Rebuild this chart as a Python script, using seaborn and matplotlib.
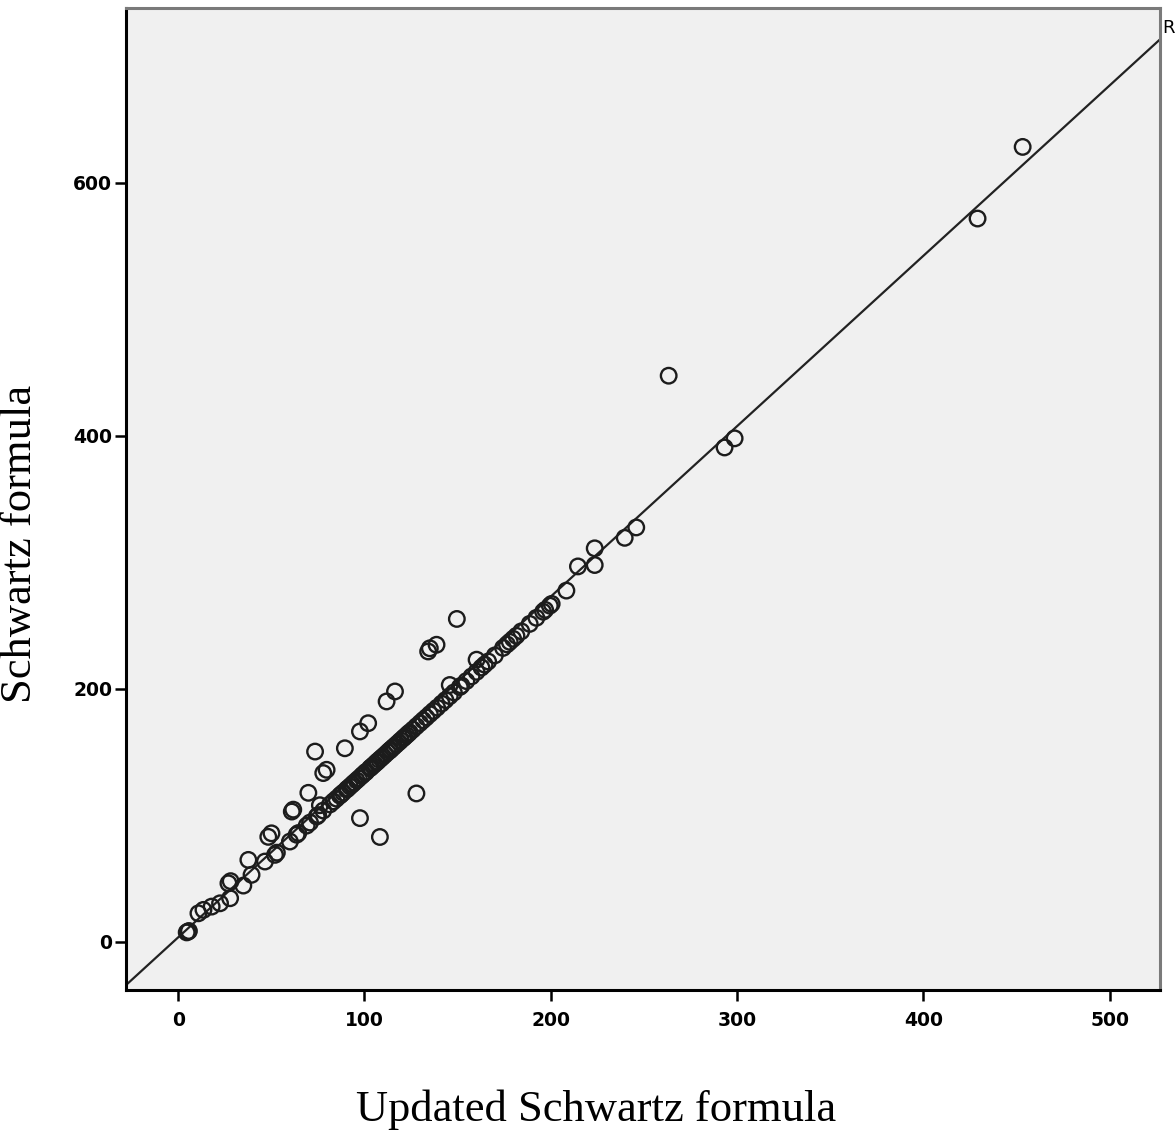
import pandas as pd
import matplotlib
matplotlib.use("Agg")
import matplotlib.pyplot as plt
import seaborn as sns

# eGFR values (updated Schwartz vs. original Schwartz)
updated_schwartz = [
    4.6, 5.3, 5.8, 10.9, 13.6, 18.0, 22.5, 27.0, 27.9, 28.2, 35.0, 37.7, 39.4,
    46.6, 48.4, 50.1, 52.0, 53.0, 60.0, 61.0, 61.8, 63.6, 64.5, 69.0, 69.9,
    70.8, 73.5, 74.4, 75.2, 76.1, 77.9, 77.9, 79.7, 81.5, 83.3, 85.0, 86.8,
    87.5, 88.6, 89.5, 90.4, 91.0, 92.2, 93.5, 94.5, 95.8, 97.0, 97.6, 97.6,
    98.5, 99.3, 100.5, 101.0, 102.0, 102.9, 103.5, 104.5, 105.5, 106.5, 107.0,
    108.0, 108.3, 109.0, 110.0, 111.2, 111.9, 112.5, 113.6, 114.0, 115.0,
    116.0, 116.4, 117.2, 118.5, 119.5, 120.8, 121.5, 122.6, 123.5, 124.3,
    126.0, 127.9, 127.9, 129.8, 131.5, 133.2, 134.2, 135.1, 135.1, 137.0,
    138.7, 139.0, 141.4, 143.5, 145.8, 145.8, 148.0, 149.6, 151.2, 152.1,
    154.7, 157.5, 160.2, 160.2, 162.8, 164.5, 166.4, 170.0, 174.4, 176.5,
    178.0, 179.8, 181.6, 184.2, 188.7, 192.3, 195.9, 197.0, 199.5, 200.5,
    208.4, 214.6, 223.6, 223.6, 239.7, 245.9, 263.3, 293.3, 298.7, 429.1,
    453.3,
]
schwartz = [
    7.5, 8.1, 8.6, 22.6, 25.3, 27.9, 30.5, 46.3, 34.5, 48.0, 44.5, 64.8, 53.0,
    63.5, 83.0, 85.8, 68.8, 70.5, 79.3, 103.0, 104.5, 84.7, 86.0, 91.9, 117.8,
    94.3, 150.4, 99.1, 100.2, 108.0, 103.8, 133.4, 136.0, 108.6, 111.0, 113.2,
    115.6, 116.5, 118.0, 153.0, 120.4, 121.2, 122.8, 124.5, 125.9, 127.6,
    129.2, 97.8, 166.3, 131.2, 132.3, 133.9, 134.5, 172.8, 137.1, 137.9,
    139.2, 140.5, 141.9, 142.5, 143.9, 82.9, 145.2, 146.5, 148.1, 190.0,
    149.9, 151.3, 151.8, 153.2, 154.5, 197.9, 156.1, 157.8, 159.2, 160.9,
    161.8, 163.3, 164.5, 165.6, 167.8, 117.3, 170.4, 172.9, 175.2, 177.4,
    229.5, 232.0, 180.0, 182.5, 234.8, 185.1, 188.3, 191.1, 194.2, 203.0,
    197.1, 255.2, 201.4, 202.6, 206.1, 209.8, 213.4, 223.0, 216.8, 219.1,
    221.6, 226.4, 232.3, 235.1, 237.1, 239.5, 241.9, 245.4, 251.3, 256.1,
    260.9, 262.4, 265.7, 267.1, 277.6, 296.7, 297.8, 311.0, 319.3, 327.5,
    447.4, 390.7, 397.9, 571.6, 628.2,
]

X_TICKS = [0, 100, 200, 300, 400, 500]
Y_TICKS = [0, 200, 400, 600]

df = pd.DataFrame({"updated": updated_schwartz, "schwartz": schwartz})

sns.set_style("white", {"axes.facecolor": "#f0f0f0"})
plt.rcParams["font.family"] = ["DejaVu Sans"]

fig = plt.figure(figsize=(11.75, 11.37), dpi=100)
ax = fig.add_axes([0.1072, 0.1293, 0.88, 0.8637])
ax.set_xlim(-28, 527)
ax.set_ylim(-38, 738)

# linear fit across the whole plot, like SPSS "fit line at total"
sns.regplot(data=df, x="updated", y="schwartz", ax=ax, scatter=False, ci=None,
            truncate=False, line_kws=dict(color="#222222", linewidth=1.6))

sns.scatterplot(data=df, x="updated", y="schwartz", ax=ax, marker="o", s=125,
                facecolors="none", edgecolor="#1c1c1c", linewidth=1.7, zorder=3)

ax.set_xlim(-28, 527)
ax.set_ylim(-38, 738)
ax.set_xticks(X_TICKS)
ax.set_yticks(Y_TICKS)
ax.set_xlabel("")
ax.set_ylabel("")
ax.tick_params(axis="both", direction="out", length=8, width=1.8, color="black",
               labelcolor="black", labelsize=13.5, pad=2, bottom=True, left=True)
for lab in ax.get_xticklabels() + ax.get_yticklabels():
    lab.set_fontweight("bold")
ax.tick_params(axis="x", pad=7)

for side in ["left", "bottom"]:
    ax.spines[side].set_color("black")
    ax.spines[side].set_linewidth(2.2)
for side in ["top", "right"]:
    ax.spines[side].set_color("#7a7a7a")
    ax.spines[side].set_linewidth(2.2)

fig.text(0.507, 0.0237, "Updated Schwartz formula", ha="center", va="center",
         fontsize=32, family="Liberation Serif", color="black")
fig.text(0.017, 0.522, "Schwartz formula", ha="center", va="center",
         rotation=90, fontsize=32, family="Liberation Serif", color="black")
# fit-line annotation, mostly cut off at the right edge as in the original
fig.text(0.9898, 0.975, "R\u00b2 Linear = 0.985", ha="left", va="center",
         fontsize=13, color="black")

fig.savefig("out.png", dpi=100)
